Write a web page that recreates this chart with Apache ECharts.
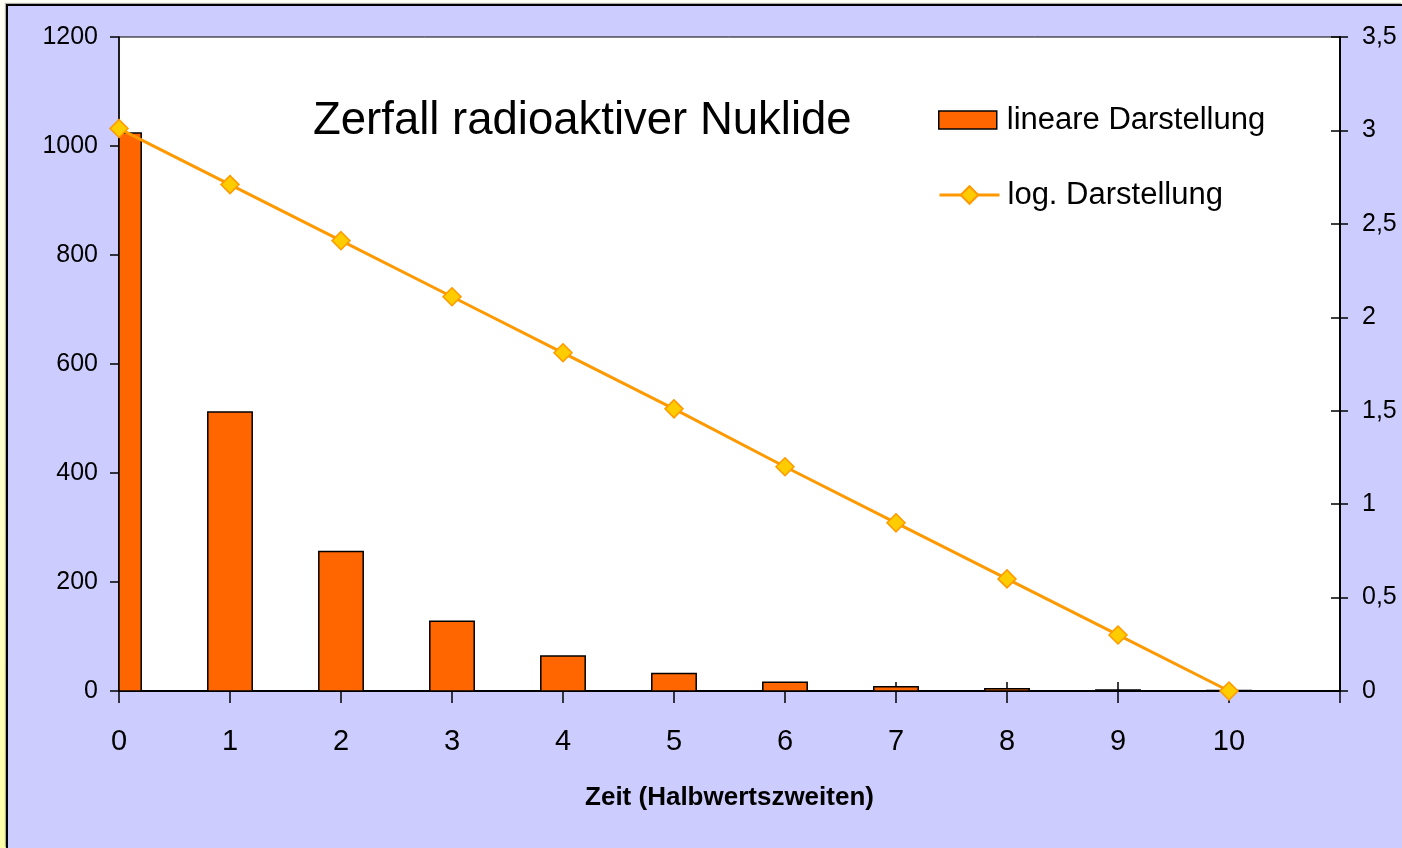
<!DOCTYPE html>
<html>
<head>
<meta charset="utf-8">
<title>Zerfall radioaktiver Nuklide</title>
<script src="https://cdn.jsdelivr.net/npm/echarts@6/dist/echarts.min.js"></script>
<style>
  html, body { margin: 0; padding: 0; }
  body {
    width: 1402px; height: 848px; overflow: hidden; position: relative;
    background: linear-gradient(to bottom, #fffff6 0%, #ffffd0 50%, #ffffa8 100%);
  }
  #panel {
    position: absolute; left: 6px; top: 4px; right: 0; bottom: 0;
    background: #ccccff;
    border-left: 2px solid #000; border-top: 2px solid #000;
    box-shadow: -1px -1px 1px rgba(0,0,0,0.3);
  }
  #chart { position: absolute; left: 0; top: 0; width: 1402px; height: 848px; }
</style>
</head>
<body>
<div id="panel"></div>
<div id="chart"></div>
<script>
// time in half-lives
const zeit = [0, 1, 2, 3, 4, 5, 6, 7, 8, 9, 10];
// remaining nuclei, linear
const linear = [1024, 512, 256, 128, 64, 32, 16, 8, 4, 2, 1];
// log10 of remaining nuclei
const logWerte = [3.01, 2.71, 2.41, 2.11, 1.81, 1.51, 1.2, 0.9, 0.6, 0.3, 0];

const font = '"Liberation Sans", Arial, sans-serif';
const barWidthUnits = 0.4; // bar width in x-axis units

const chart = echarts.init(document.getElementById('chart'), null, { renderer: 'canvas' });

const xBase = {
  type: 'value',
  min: 0,
  max: 11,
  interval: 1,
  splitLine: { show: false },
  gridIndex: 0
};

// bars drawn as custom rects so the first one is cut at the plot edge
function renderBar(params, api) {
  const x = api.value(0);
  const top = api.coord([x, api.value(1)]);
  const base = api.coord([x, 0]);
  const w = api.size([barWidthUnits, 0])[0];
  const cs = params.coordSys;
  const shape = echarts.graphic.clipRectByRect(
    { x: top[0] - w / 2, y: top[1], width: w, height: base[1] - top[1] },
    { x: cs.x, y: cs.y, width: cs.width, height: cs.height }
  );
  if (!shape) return;
  return { type: 'rect', shape: shape, style: api.style() };
}

chart.setOption({
  backgroundColor: 'transparent',
  animation: false,
  title: {
    text: 'Zerfall radioaktiver Nuklide',
    left: 308,
    top: 93,
    textStyle: { fontFamily: font, fontSize: 45.5, fontWeight: 'normal', color: '#000' }
  },
  legend: [
    {
      orient: 'vertical',
      left: 938,
      top: 102,
      padding: 0,
      itemWidth: 58,
      itemHeight: 18,
      textStyle: { fontFamily: font, fontSize: 31, color: '#000', lineHeight: 36, padding: [0, 0, 0, 5] },
      data: [{
        name: 'lineare Darstellung',
        icon: 'rect',
        itemStyle: { color: '#ff6600', borderColor: '#000', borderWidth: 1.5 }
      }]
    },
    {
      orient: 'vertical',
      left: 938,
      top: 177,
      padding: 0,
      itemWidth: 60,
      itemHeight: 22,
      textStyle: { fontFamily: font, fontSize: 31, color: '#000', lineHeight: 36, padding: [0, 0, 0, 3] },
      lineStyle: { width: 3, color: '#ff9900' },
      data: ['log. Darstellung']
    }
  ],
  grid: {
    left: 119,
    right: 62,
    top: 37,
    bottom: 157,
    show: true,
    backgroundColor: '#fff',
    borderColor: '#000',
    borderWidth: 1
  },
  xAxis: [
    Object.assign({}, xBase, {
      position: 'bottom',
      axisLine: { show: true, onZero: false, lineStyle: { color: '#000', width: 2 } },
      axisTick: { show: true, inside: false, length: 12, lineStyle: { color: '#000', width: 1.5 } },
      axisLabel: {
        fontFamily: font, fontSize: 29, color: '#000', margin: 36,
        formatter: v => (v === 11 ? '' : String(v))
      },
      name: 'Zeit (Halbwertszweiten)',
      nameLocation: 'middle',
      nameGap: 94,
      nameTextStyle: { fontFamily: font, fontSize: 26, fontWeight: 'bold', color: '#000' }
    }),
    Object.assign({}, xBase, {
      position: 'bottom',
      axisLine: { show: false, onZero: false },
      axisTick: { show: true, inside: true, length: 9, lineStyle: { color: '#000', width: 1.5 } },
      axisLabel: { show: false }
    })
  ],
  yAxis: [
    {
      type: 'value',
      position: 'left',
      min: 0,
      max: 1200,
      interval: 200,
      splitLine: { show: false },
      axisLine: { show: true, onZero: false, lineStyle: { color: '#000', width: 1.5 } },
      axisTick: { show: true, inside: false, length: 9, lineStyle: { color: '#000', width: 1.5 } },
      axisLabel: { fontFamily: font, fontSize: 25, color: '#000', margin: 21, formatter: v => String(v) }
    },
    {
      type: 'value',
      position: 'right',
      min: 0,
      max: 3.5,
      interval: 0.5,
      splitLine: { show: false },
      axisLine: { show: true, onZero: false, lineStyle: { color: '#000', width: 2 } },
      axisTick: { show: true, inside: false, length: 8, lineStyle: { color: '#000', width: 1.5 } },
      axisLabel: {
        fontFamily: font, fontSize: 25, color: '#000', margin: 22,
        formatter: v => String(v).replace('.', ',')
      }
    },
    {
      type: 'value',
      position: 'right',
      min: 0,
      max: 3.5,
      interval: 0.5,
      splitLine: { show: false },
      axisLine: { show: false, onZero: false },
      axisTick: { show: true, inside: true, length: 9, lineStyle: { color: '#000', width: 1.5 } },
      axisLabel: { show: false }
    }
  ],
  series: [
    {
      name: 'lineare Darstellung',
      type: 'custom',
      xAxisIndex: 0,
      yAxisIndex: 0,
      renderItem: renderBar,
      encode: { x: 0, y: 1 },
      data: zeit.map((t, i) => [t, linear[i]]),
      itemStyle: { color: '#ff6600', borderColor: '#000', borderWidth: 1.5 },
      z: 2
    },
    {
      name: 'log. Darstellung',
      type: 'line',
      xAxisIndex: 0,
      yAxisIndex: 1,
      data: zeit.map((t, i) => [t, logWerte[i]]),
      symbol: 'diamond',
      symbolSize: 18,
      clip: false,
      lineStyle: { color: '#ff9900', width: 3 },
      itemStyle: { color: '#ffcc00', borderColor: '#ff9900', borderWidth: 1.5 },
      z: 5
    }
  ]
});
</script>
</body>
</html>
